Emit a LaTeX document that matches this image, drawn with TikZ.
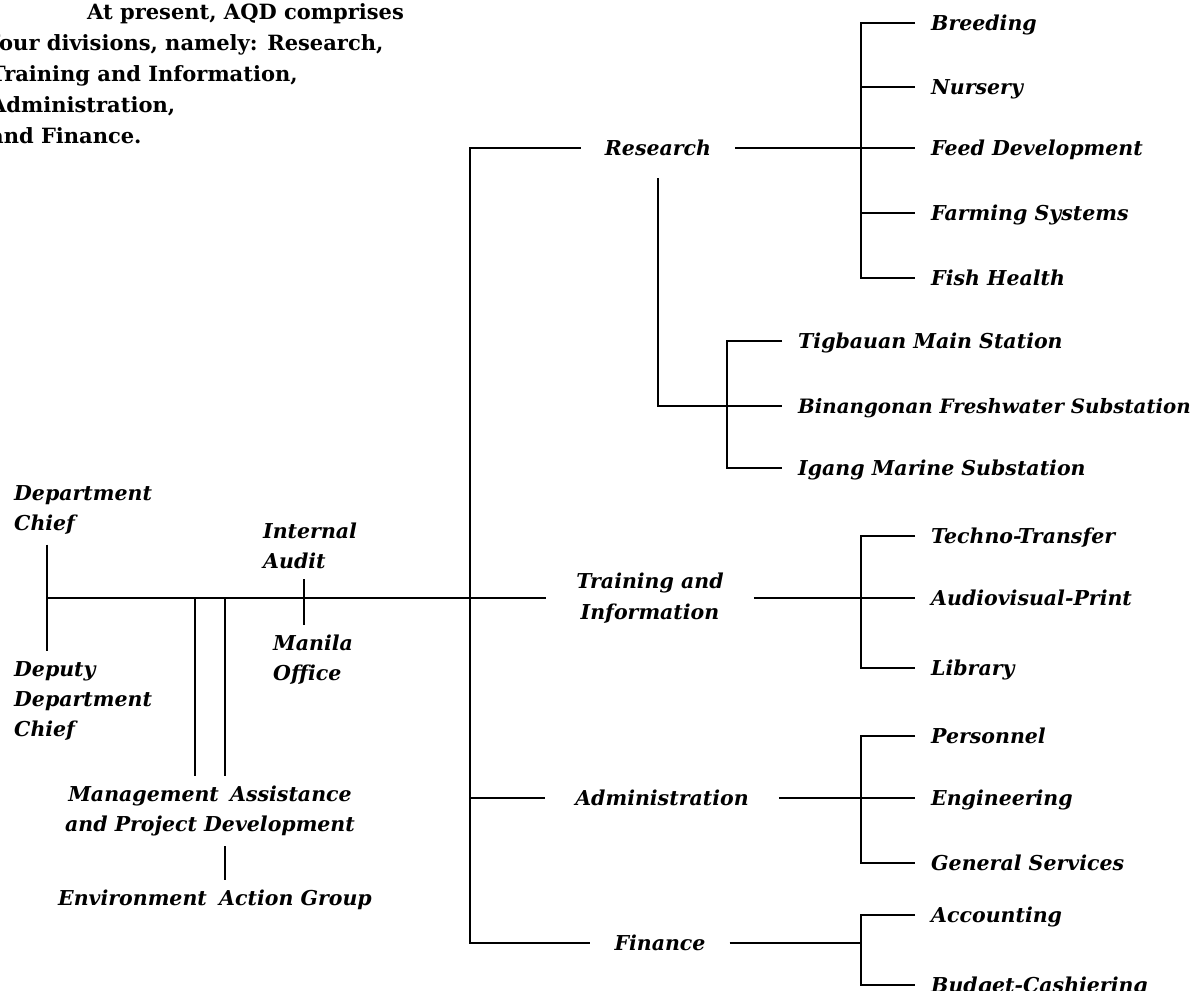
\documentclass[tikz,border=0pt]{standalone}
\usepackage{fontspec}
\setmainfont{DejaVu Serif}
\usepackage{tikz}
\usetikzlibrary{positioning}
\tikzstyle{para} = [anchor=north west, inner sep=0pt, align=left, font=\fontsize{21}{31}\selectfont\bfseries]
\tikzstyle{post} = [inner xsep=0pt, inner ysep=10pt, font=\fontsize{20.5}{30}\selectfont\bfseries\itshape]
\tikzstyle{division} = [align=center, inner xsep=24pt, inner ysep=22pt, font=\fontsize{20.5}{31}\selectfont\bfseries\itshape]
\tikzstyle{unit} = [anchor=west, inner xsep=16pt, inner ysep=2pt, text height=15pt, text depth=0pt, font=\fontsize{20.5}{30}\selectfont\bfseries\itshape]
\tikzstyle{line} = [line width=2.4pt]

\begin{document}
\begin{tikzpicture}[x=1pt, y=-1pt]
	\useasboundingbox (0,0) rectangle (1201,990);
	\clip (0,0) rectangle (1201,990);

	\node(intro) [para] at (-10,3) {\hspace*{97pt}At present, AQD comprises\\four divisions, namely: Research,\\Training and Information,\\Administration,\\and Finance.};

	% left side
	\coordinate(hub) at (47,598);
	\coordinate(mapdL) at (195,598);
	\coordinate(mapdR) at (225,598);
	\coordinate(audtap) at (304,598);
	\node(chief) [post, anchor=west, align=left] at (14,510) {Department\\Chief};
	\node(deputy) [post, anchor=west, align=left] at (14,701) {Deputy\\Department\\Chief};
	\node(audit) [post, anchor=west, align=left] at (263,546) {Internal\\Audit};
	\node(manila) [post, anchor=west, align=left] at (273,660) {Manila\\Office};
	\node(mapd) [post, align=center] at (210,811) {Management\hspace{.55em}Assistance\\and Project Development};
	\node(eag) [post] at (215,900) {Environment\hspace{.6em}Action Group};

	% divisions
	\coordinate(trunk) at (470,0);
	\coordinate(join) at (861,0);
	\coordinate(sjoin) at (727,0);
	\node(research) [division] at (658,148) {Research};
	\node(training) [division, inner xsep=30pt] at (650,598) {Training and\\Information};
	\node(admin) [division, inner xsep=30pt] at (662,798) {Administration};
	\node(finance) [division] at (660,943) {Finance};

	% research units
	\node(feed) [unit] at (915,148) {Feed Development};
	\node(nursery) [above=61pt of feed.west, unit] {Nursery};
	\node(breeding) [above=64pt of nursery.west, unit] {Breeding};
	\node(farming) [below=65pt of feed.west, unit] {Farming Systems};
	\node(fish) [below=65pt of farming.west, unit] {Fish Health};
	\node(binangonan) [unit, font=\fontsize{19.8}{30}\selectfont\bfseries\itshape] at (782,406) {Binangonan Freshwater Substation};
	\node(tigbauan) [above=65pt of binangonan.west, unit] {Tigbauan Main Station};
	\node(igang) [below=62pt of binangonan.west, unit] {Igang Marine Substation};

	% training, administration and finance units
	\node(audio) [unit] at (915,598) {Audiovisual-Print};
	\node(techno) [above=62pt of audio.west, unit] {Techno-Transfer};
	\node(library) [below=70pt of audio.west, unit] {Library};
	\node(engineering) [unit] at (915,798) {Engineering};
	\node(personnel) [above=62pt of engineering.west, unit] {Personnel};
	\node(general) [below=65pt of engineering.west, unit] {General Services};
	\node(accounting) [unit] at (915,915) {Accounting};
	\node(budget) [below=70pt of accounting.west, unit] {Budget-Cashiering};

	\draw[line] (chief.south -| hub) -- (deputy.north -| hub);
	\draw[line] (hub) -- (training.west);
	\draw[line] (mapdL) -- (mapdL |- mapd.north);
	\draw[line] (mapdR) -- (mapdR |- mapd.north);
	\draw[line] (mapdR |- mapd.south) -- (mapdR |- eag.north);
	\draw[line] (audtap |- audit.south) -- (audtap |- manila.north);

	\draw[line] (research.west) -| (trunk |- finance.west) -- (finance.west);
	\draw[line] (trunk |- admin.west) -- (admin.west);

	\draw[line] (research.east) -- (feed.west);
	\draw[line] (breeding.west) -| (join |- fish.west) -- (fish.west);
	\draw[line] (join |- nursery.west) -- (nursery.west);
	\draw[line] (join |- farming.west) -- (farming.west);
	\draw[line] (research.south) |- (binangonan.west);
	\draw[line] (tigbauan.west) -| (sjoin |- igang.west) -- (igang.west);

	\draw[line] (training.east) -- (audio.west);
	\draw[line] (techno.west) -| (join |- library.west) -- (library.west);
	\draw[line] (admin.east) -- (engineering.west);
	\draw[line] (personnel.west) -| (join |- general.west) -- (general.west);
	\draw[line] (finance.east) -- (finance.east -| join);
	\draw[line] (accounting.west) -| (join |- budget.west) -- (budget.west);
\end{tikzpicture}
\end{document}
